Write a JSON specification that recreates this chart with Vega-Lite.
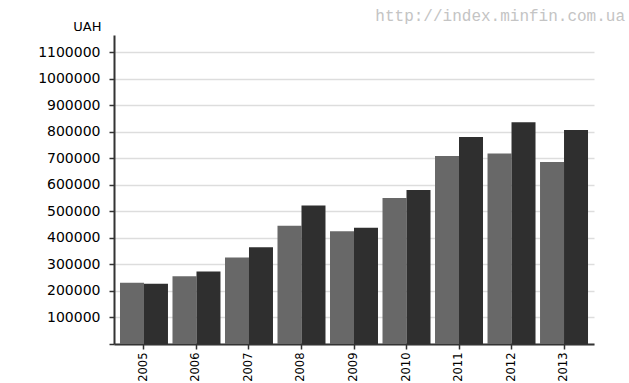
{
  "$schema": "https://vega.github.io/schema/vega-lite/v6.json",
  "width": 480,
  "height": 309,
  "autosize": {"type": "none"},
  "padding": {"left": 114, "top": 35, "right": 35, "bottom": 39},
  "background": "white",
  "title": {
    "text": "http://index.minfin.com.ua",
    "anchor": "end",
    "font": "Liberation Mono",
    "fontSize": 16,
    "fontWeight": "normal",
    "color": "#c4c4c4",
    "dx": 31,
    "offset": -4
  },
  "data": {
    "values": [
      {"year": "2005", "series": "s1", "value": 231000},
      {"year": "2005", "series": "s2", "value": 227000},
      {"year": "2006", "series": "s1", "value": 255000},
      {"year": "2006", "series": "s2", "value": 273000},
      {"year": "2007", "series": "s1", "value": 326000},
      {"year": "2007", "series": "s2", "value": 365000},
      {"year": "2008", "series": "s1", "value": 446000},
      {"year": "2008", "series": "s2", "value": 522000},
      {"year": "2009", "series": "s1", "value": 425000},
      {"year": "2009", "series": "s2", "value": 438000},
      {"year": "2010", "series": "s1", "value": 550000},
      {"year": "2010", "series": "s2", "value": 581000},
      {"year": "2011", "series": "s1", "value": 709000},
      {"year": "2011", "series": "s2", "value": 780000},
      {"year": "2012", "series": "s1", "value": 718000},
      {"year": "2012", "series": "s2", "value": 836000},
      {"year": "2013", "series": "s1", "value": 686000},
      {"year": "2013", "series": "s2", "value": 807000}
    ]
  },
  "mark": {"type": "bar"},
  "encoding": {
    "x": {
      "field": "year",
      "type": "ordinal",
      "scale": {"paddingInner": 0.086, "paddingOuter": 0.114},
      "axis": {
        "title": null,
        "labelAngle": -90,
        "labelAlign": "right",
        "labelBaseline": "middle",
        "labelFont": "DejaVu Sans",
        "labelFontSize": 11.5,
        "labelColor": "#000000",
        "labelPadding": 3,
        "tickSize": 5,
        "tickColor": "#333333",
        "tickWidth": 1.5,
        "domainColor": "#333333",
        "domainWidth": 2,
        "grid": false
      }
    },
    "xOffset": {"field": "series", "type": "nominal", "scale": {"paddingInner": 0, "paddingOuter": 0}},
    "y": {
      "field": "value",
      "type": "quantitative",
      "scale": {"domain": [0, 1165000], "nice": false},
      "axis": {
        "title": "UAH",
        "titleAngle": 0,
        "titleAlign": "right",
        "titleBaseline": "middle",
        "titleX": -13,
        "titleY": -9,
        "titleFont": "DejaVu Sans",
        "titleFontSize": 13,
        "titleFontWeight": "normal",
        "titleColor": "#000000",
        "values": [0, 100000, 200000, 300000, 400000, 500000, 600000, 700000, 800000, 900000, 1000000, 1100000],
        "format": "d",
        "labelExpr": "datum.value === 0 ? '' : datum.label",
        "labelFont": "DejaVu Sans",
        "labelFontSize": 14,
        "labelColor": "#000000",
        "labelPadding": 9,
        "tickSize": 5,
        "tickColor": "#333333",
        "tickWidth": 1.5,
        "domainColor": "#333333",
        "domainWidth": 2,
        "gridColor": "#dddddd",
        "gridWidth": 1.5
      }
    },
    "color": {
      "field": "series",
      "type": "nominal",
      "scale": {"range": ["#686868", "#2f2f2f"]},
      "legend": null
    }
  },
  "config": {"view": {"stroke": null}}
}
